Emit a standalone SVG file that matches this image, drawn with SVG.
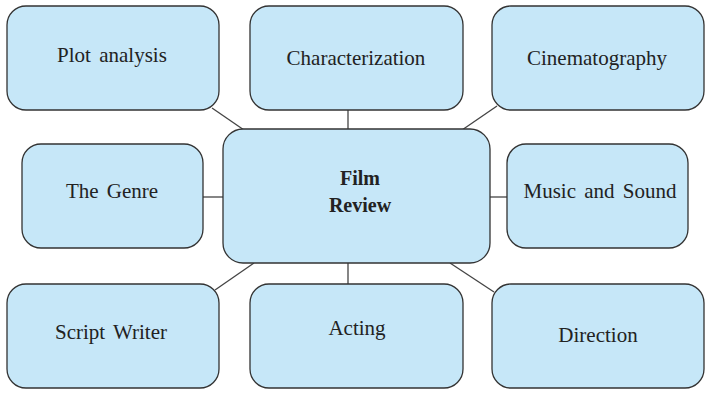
<svg xmlns="http://www.w3.org/2000/svg" width="710" height="410" viewBox="0 0 710 410">
<style>
.box{fill:#c6e7f8;stroke:#333;stroke-width:1.3}
.lbl{font-family:"Liberation Serif","Times New Roman",serif;font-size:21px;fill:#222;text-anchor:middle;word-spacing:3px}
.ctr{font-family:"Liberation Serif","Times New Roman",serif;font-size:20px;font-weight:bold;fill:#222;text-anchor:middle}
.conn line{stroke:#444;stroke-width:1.3}
</style>
<rect width="710" height="410" fill="#fff"/>
<g class="conn">
<line x1="212" y1="108" x2="244" y2="130"/>
<line x1="348" y1="110" x2="348" y2="129"/>
<line x1="497" y1="106" x2="462" y2="130"/>
<line x1="203" y1="197" x2="223" y2="197"/>
<line x1="490" y1="197" x2="507" y2="197"/>
<line x1="215" y1="290" x2="254" y2="263"/>
<line x1="348" y1="263" x2="348" y2="284"/>
<line x1="450" y1="263" x2="494" y2="292"/>
</g>
<g id="center"><rect class="box" x="223" y="129" width="267" height="134" rx="20"/><text class="ctr" x="360" y="185">Film</text><text class="ctr" x="360" y="212">Review</text></g>
<g id="plot"><rect class="box" x="7" y="6" width="212" height="104" rx="19"/><text class="lbl" x="112" y="62">Plot analysis</text></g>
<g id="char"><rect class="box" x="250" y="6" width="213" height="104" rx="19"/><text class="lbl" x="356" y="65">Characterization</text></g>
<g id="cine"><rect class="box" x="492" y="6" width="212" height="104" rx="19"/><text class="lbl" x="597" y="65">Cinematography</text></g>
<g id="genre"><rect class="box" x="22" y="144" width="181" height="104" rx="19"/><text class="lbl" x="112" y="198">The Genre</text></g>
<g id="music"><rect class="box" x="507" y="144" width="181" height="104" rx="19"/><text class="lbl" x="600" y="198">Music and Sound</text></g>
<g id="script"><rect class="box" x="7" y="284" width="212" height="104" rx="19"/><text class="lbl" x="111" y="339">Script Writer</text></g>
<g id="acting"><rect class="box" x="250" y="284" width="213" height="104" rx="19"/><text class="lbl" x="357" y="335">Acting</text></g>
<g id="direction"><rect class="box" x="492" y="284" width="212" height="104" rx="19"/><text class="lbl" x="598" y="342">Direction</text></g>
</svg>
